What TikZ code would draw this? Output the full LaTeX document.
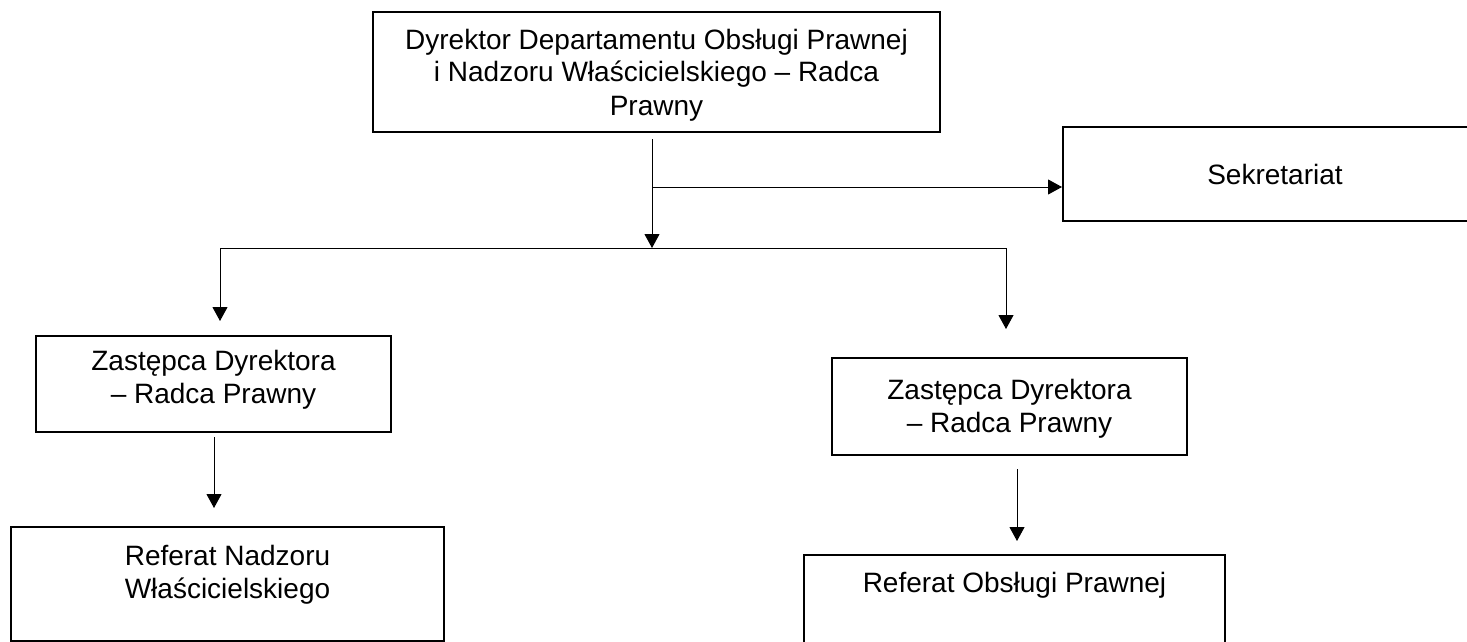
\documentclass[tikz,border=0pt]{standalone}
\usepackage{fontspec}
\setmainfont{Liberation Sans}
\usetikzlibrary{arrows.meta}

\tikzset{
  orgbox/.style={draw, line width=1.5pt, align=center, inner sep=0pt,
    font=\fontsize{21}{24.75}\selectfont},
  orgline/.style={line width=0.75pt},
  orgarrow/.style={orgline, -{Triangle[width=11.25pt,length=10.5pt]}},
}

\begin{document}
\begin{tikzpicture}[x=0.75pt,y=0.75pt,yscale=-1,xscale=1]
\useasboundingbox (0,0) rectangle (1467,642);

% Text Node
\node [orgbox, minimum width=425.25pt, text height=77.25pt, text depth=12.75pt] (dyrektor) at (656.5,72) {Dyrektor Departamentu Obsługi Prawnej\\i Nadzoru Właścicielskiego – Radca\\Prawny};
% Text Node
\node [orgbox, minimum width=318pt, minimum height=70.5pt] (sekretariat) at (1275,174) {Sekretariat};
% Text Node
\node [orgbox, minimum width=266.25pt, text height=50.25pt, text depth=21.75pt] (zastepcaL) at (213.5,384) {Zastępca Dyrektora\\– Radca Prawny};
% Text Node
\node [orgbox, minimum width=266.25pt, text height=55.5pt, text depth=17.25pt] (zastepcaR) at (1009.5,406.5) {Zastępca Dyrektora\\– Radca Prawny};
% Text Node
\node [orgbox, minimum width=324.75pt, text height=53.25pt, text depth=32.25pt] (referatN) at (227.5,584) {Referat Nadzoru\\Właścicielskiego};
% Text Node
\node [orgbox, minimum width=315.75pt, text height=27.75pt, text depth=57.75pt] (referatP) at (1014.5,612) {Referat Obsługi Prawnej};

\coordinate (split) at (652,248);
\coordinate (splitL) at (220,248);
\coordinate (splitR) at (1006,248);
\coordinate (sekj) at (652,187);

%Straight Lines
\draw [orgarrow, shorten <=4.5pt] (dyrektor.south -| split) -- (split);
%Straight Lines
\draw [orgarrow] (sekj) -- (sekj -| sekretariat.west);
%Straight Lines
\draw [orgline] (splitL) -- (splitR);
%Straight Lines
\draw [orgarrow, shorten >=10.5pt] (splitL) -- (splitL |- zastepcaL.north);
%Straight Lines
\draw [orgarrow, shorten >=21pt] (splitR) -- (splitR |- zastepcaR.north);
%Straight Lines
\draw [orgarrow, shorten <=3pt, shorten >=13.5pt] ([xshift=0.375pt]zastepcaL.south) -- ([xshift=0.375pt]zastepcaL.south |- referatN.north);
%Straight Lines
\draw [orgarrow, shorten <=9.75pt, shorten >=9.75pt] ([xshift=5.625pt]zastepcaR.south) -- ([xshift=5.625pt]zastepcaR.south |- referatP.north);

\end{tikzpicture}
\end{document}
